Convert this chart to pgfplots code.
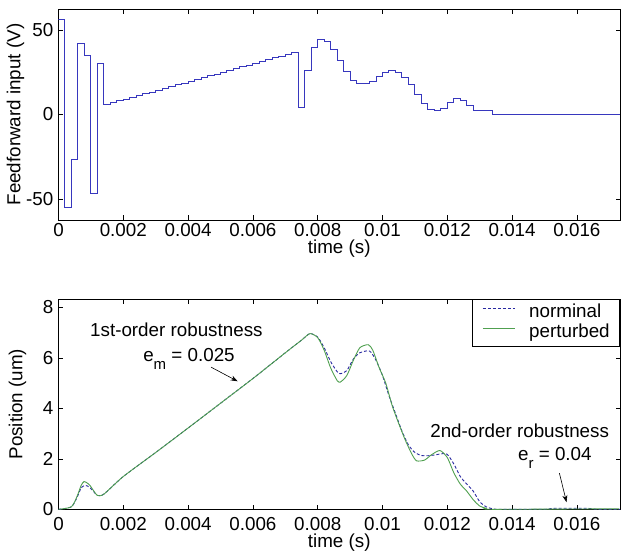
\documentclass[border=0pt]{standalone}
\usepackage{pgfplots}
\pgfplotsset{compat=1.18}
\usepackage{fontspec}
\setmainfont{Liberation Sans}
\usetikzlibrary{arrows.meta}
\definecolor{stepblue}{RGB}{55,55,190}
\definecolor{nomblue}{RGB}{40,40,160}
\definecolor{pertgreen}{RGB}{80,160,80}
\newcommand{\ff}{\fontsize{18.8}{22}\selectfont}
\pgfplotstableread{
t v
0 56.4
0.0002 -55.3
0.0004 -26.9
0.0006 42.2
0.0008 35.1
0.001 -46.8
0.0012 30.2
0.0014 5.9
0.0016 7.0
0.0018 8.0
0.002 9.1
0.0022 10.1
0.0024 11.2
0.0026 12.3
0.0028 13.3
0.003 14.4
0.0032 15.5
0.0034 16.5
0.0036 17.6
0.0038 18.6
0.004 19.7
0.0042 20.8
0.0044 21.8
0.0046 22.9
0.0048 23.9
0.005 25.0
0.0052 26.1
0.0054 27.1
0.0056 28.2
0.0058 29.2
0.006 30.3
0.0062 31.4
0.0064 32.4
0.0066 33.5
0.0068 34.5
0.007 35.6
0.0072 36.7
0.0074 4.3
0.0076 26.2
0.0078 39.6
0.008 44.4
0.0082 43.4
0.0084 38.5
0.0086 31.7
0.0088 25.2
0.009 19.9
0.0092 18.3
0.0094 18.3
0.0096 19.7
0.0098 22.7
0.01 24.8
0.0102 25.8
0.0104 24.8
0.0106 21.9
0.0108 17.7
0.011 12.0
0.0112 6.5
0.0114 3.1
0.0116 2.1
0.0118 3.5
0.012 7.1
0.0122 9.6
0.0124 8.5
0.0126 5.1
0.0128 2.4
0.013 2.4
0.0132 2.4
0.0134 0
0.01733 0
}\ffdata
\begin{document}
\begin{tikzpicture}[font=\ff]
\path[use as bounding box] (0pt,0pt) rectangle (621pt,-554pt);
\pgfplotsset{
  myax/.style={
    scale only axis, anchor=north west,
    width=561.5pt,
    xmin=0, xmax=0.01733,
    scaled x ticks=false,
    xtick={0,0.002,0.004,0.006,0.008,0.01,0.012,0.014,0.016},
    xticklabels={0,0.002,0.004,0.006,0.008,0.01,0.012,0.014,0.016},
    tick align=inside,
    major tick length=4.5pt,
    axis line style={line width=0.8pt},
    tick style={line width=0.6pt, color=black},
    tick label style={font=\ff},
    label style={font=\ff},
    yticklabel style={inner sep=0pt, xshift=-5pt},
    xlabel={time (s)},
    /pgf/number format/assume math mode=true,
  }
}
\begin{axis}[myax, at={(58.5pt,-9pt)}, height=211pt,
  ymin=-62.5, ymax=62.5,
  ytick={-50,0,50}, yticklabels={-50,0,50},
  xticklabel style={inner sep=0pt, yshift=-2.7pt},
  xlabel style={at={(axis description cs:0.5,0)}, anchor=north, inner sep=0pt, yshift=-20pt},
  ylabel={Feedforward input (V)},
  ylabel style={at={(axis description cs:-0.0766,0.5)}, anchor=center, rotate=0},
]
\addplot[const plot mark left, draw=stepblue, line width=1pt, line join=miter, line cap=butt, mark=none] table[x=t,y=v] {\ffdata};
\end{axis}
\begin{axis}[myax, at={(58.5pt,-299pt)}, height=210.3pt,
  ymin=0, ymax=8.33,
  ytick={0,2,4,6,8}, yticklabels={0,2,4,6,8},
  xticklabel style={inner sep=0pt, yshift=-8pt},
  xlabel style={at={(axis description cs:0.5,0)}, anchor=north, inner sep=0pt, yshift=-24pt},
  ylabel={Position (um)},
  ylabel style={at={(axis description cs:-0.073,0.5)}, anchor=center},
  legend style={at={(1,1)}, anchor=north east, font=\ff, draw=black, line width=0.6pt,
    inner xsep=10pt, inner ysep=5pt, row sep=3pt,
    nodes={inner sep=0pt, text height=13pt, text depth=4pt},
    cells={anchor=west},
    /tikz/every odd column/.append style={column sep=14pt}},
  legend image code/.code={\draw[#1, line width=0.9pt] (0pt,4pt) -- (32pt,4pt);},
]
\addplot[nomblue, line width=0.9pt, dash pattern=on 3pt off 2pt, smooth, tension=0.4] coordinates {
(0,0) (0.0002,0.03) (0.0004,0.1) (0.0005,0.28) (0.0006,0.55) (0.0007,0.85) (0.0008,0.94)
(0.0009,0.92) (0.001,0.82) (0.0011,0.68) (0.0012,0.55) (0.0014,0.6) (0.002,1.3) (0.003,2.25)
(0.004,3.22) (0.005,4.2) (0.006,5.18) (0.007,6.2) (0.0075,6.7) (0.00776,6.96) (0.008,6.82)
(0.0082,6.4) (0.0084,5.85) (0.0086,5.45) (0.0087,5.37) (0.0089,5.5) (0.0091,5.95) (0.0093,6.2)
(0.0096,6.27) (0.0098,5.9) (0.01,5.3) (0.0102,4.5) (0.0104,3.8) (0.0106,3.1) (0.0108,2.55)
(0.011,2.25) (0.0112,2.13) (0.0114,2.12) (0.0116,2.15) (0.01197,2.2) (0.0122,1.8) (0.0124,1.3)
(0.0126,1.0) (0.0128,0.72) (0.013,0.3) (0.0132,0.1) (0.0134,0.02) (0.0136,0) (0.015,0)
(0.0153,0.04) (0.0163,0.04) (0.0166,0) (0.01733,0)
};
\addlegendentry{norminal}
\addplot[pertgreen, line width=0.9pt, smooth, tension=0.4] coordinates {
(0,0) (0.0002,0.03) (0.0004,0.1) (0.0005,0.3) (0.0006,0.6) (0.0007,0.95) (0.00079,1.1)
(0.0009,1.03) (0.00097,0.95) (0.00105,0.8) (0.0012,0.55) (0.0014,0.6) (0.002,1.3) (0.003,2.25)
(0.004,3.22) (0.005,4.2) (0.006,5.18) (0.007,6.2) (0.0075,6.7) (0.00776,6.96) (0.008,6.8)
(0.0082,6.3) (0.0084,5.6) (0.0086,5.1) (0.0087,5.04) (0.0089,5.3) (0.0091,5.9) (0.0093,6.4)
(0.00956,6.52) (0.0097,6.3) (0.0099,5.6) (0.0101,5.0) (0.0103,4.1) (0.0105,3.4) (0.0107,2.75)
(0.0109,2.2) (0.01105,1.92) (0.0113,1.95) (0.0115,2.15) (0.01177,2.33) (0.012,2.05) (0.0122,1.45)
(0.0124,1.0) (0.0126,0.72) (0.0128,0.38) (0.013,0.13) (0.0132,0.04) (0.0134,0) (0.0173,0.02)
};
\addlegendentry{perturbed}
\node[anchor=base west, inner sep=0pt] at (axis cs:0.000972,6.83) {1st-order robustness};
\node[anchor=base west, inner sep=0pt] at (axis cs:0.00261,5.84) {e\raisebox{-8pt}{\fontsize{15}{15}\selectfont m} = 0.025};
\draw[-{Stealth[length=7pt,width=5pt]}, line width=0.6pt] (axis cs:0.00471,5.63) -- (axis cs:0.00553,5.07);
\node[anchor=base west, inner sep=0pt] at (axis cs:0.01147,2.86) {2nd-order robustness};
\node[anchor=base west, inner sep=0pt] at (axis cs:0.01418,1.93) {e\raisebox{-8pt}{\fontsize{15}{15}\selectfont r} = 0.04};
\draw[-{Stealth[length=7pt,width=5pt]}, line width=0.6pt] (axis cs:0.01546,1.43) -- (axis cs:0.01568,0.28);
\end{axis}
\end{tikzpicture}
\end{document}
